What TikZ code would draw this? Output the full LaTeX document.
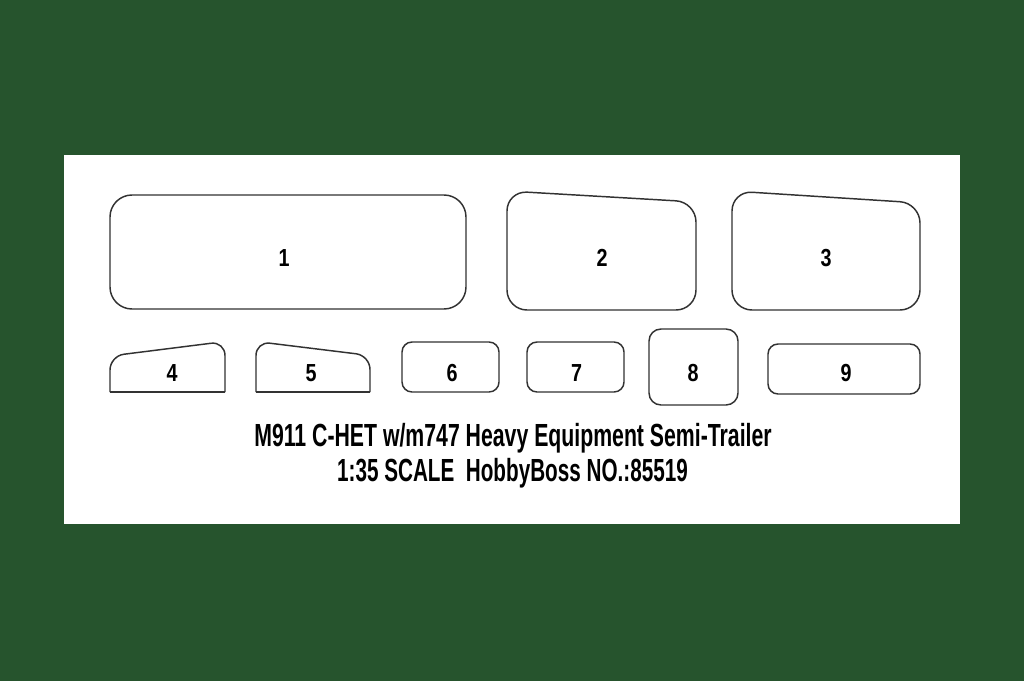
\documentclass[tikz,border=0pt]{standalone}
\usepackage{fontspec}
\setmainfont{Liberation Sans}
\usepackage{graphicx}
\definecolor{bggreen}{RGB}{38,84,45}
\definecolor{edgegray}{RGB}{50,50,50}
\begin{document}
\begin{tikzpicture}[x=0.75pt,y=-0.75pt,
  part/.style={draw=edgegray,line width=1.1pt,line join=round},
  num/.style={anchor=base,inner sep=0pt,font=\bfseries\fontsize{18.5}{20}\selectfont},
  titletext/.style={anchor=base,inner sep=0pt,font=\bfseries\fontsize{24}{26}\selectfont}]
\fill[bggreen] (0,0) rectangle (1024,681);
\useasboundingbox (0,0) rectangle (1024,681);
\fill[white] (64,155) rectangle (960,524);
% large parts
\draw[part,rounded corners=16.5pt] (110,195) rectangle (466,309);
\draw[part,rounded corners=15pt] (507,310) -- (507,191) -- (696,202) -- (696,310) -- cycle;
\draw[part,rounded corners=15pt] (732,310) -- (732,191) -- (920,203) -- (920,310) -- cycle;
% part 4
\draw[part,rounded corners=10.5pt] (110,392) -- (110,356) -- (225,341.5) -- (225,392);
\draw[part] (225,392) -- (110,392);
% part 5
\draw[part,rounded corners=10.5pt] (256,392) -- (256,341.5) -- (370,355.5) -- (370,392);
\draw[part] (370,392) -- (256,392);
% small boxes
\draw[part,rounded corners=7.5pt] (402,342) rectangle (499,392);
\draw[part,rounded corners=7.5pt] (527,342) rectangle (624,392);
\draw[part,rounded corners=9pt] (649,329) rectangle (738,405);
\draw[part,rounded corners=7.5pt] (768,344) rectangle (920,394);
% numbers
\node[num] (n1) at (284,266) {\scalebox{0.8}[1]{1}};
\node[num] (n2) at (602,266) {\scalebox{0.8}[1]{2}};
\node[num] (n3) at (826,266) {\scalebox{0.8}[1]{3}};
\node[num] (n4) at (172,381) {\scalebox{0.8}[1]{4}};
\node[num] (n5) at (311,381) {\scalebox{0.8}[1]{5}};
\node[num] (n6) at (452,381) {\scalebox{0.8}[1]{6}};
\node[num] (n7) at (576.5,381) {\scalebox{0.8}[1]{7}};
\node[num] (n8) at (693,381) {\scalebox{0.8}[1]{8}};
\node[num] (n9) at (846,381) {\scalebox{0.8}[1]{9}};
% title
\node[titletext] (t1) at (513,446) {\resizebox{388pt}{\height}{M911 C-HET w/m747 Heavy Equipment Semi-Trailer}};
\node[titletext] (t2) at (512.5,481) {\resizebox{263pt}{\height}{1:35 SCALE\ \ HobbyBoss NO.:85519}};
\end{tikzpicture}
\end{document}
